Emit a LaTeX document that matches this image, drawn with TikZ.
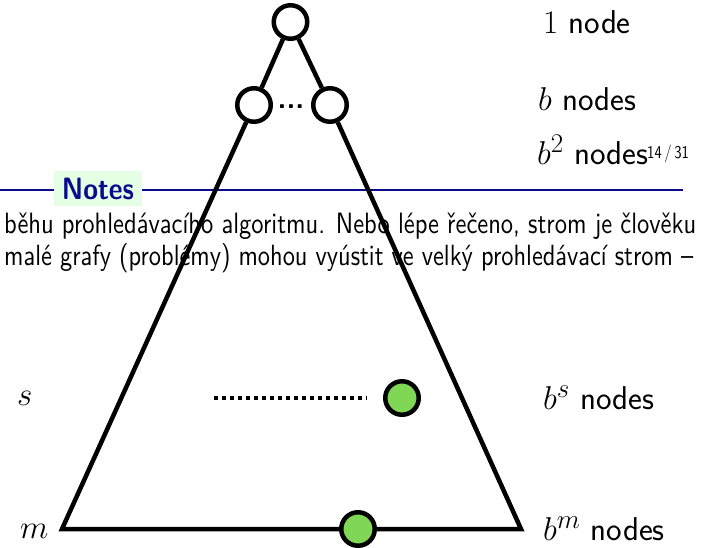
\RequirePackage{fix-cm}
\documentclass[tikz,border=0pt]{standalone}
\usepackage{fontspec}
\usepackage{graphicx}
\DeclareMathSizes{33}{33}{27}{20}
\definecolor{nodegreen}{RGB}{128,214,85}
\definecolor{notesblue}{RGB}{10,10,140}
\definecolor{notesbg}{RGB}{228,255,228}
\begin{document}
\begin{tikzpicture}[x=1pt,y=-1pt,
  tree/.style={line width=4.5pt, black},
  emptynode/.style={circle, draw=black, line width=4.5pt, fill=white, minimum size=33.5pt, inner sep=0pt},
  goalnode/.style={emptynode, fill=nodegreen},
  lbl/.style={font=\fontsize{33}{40}\selectfont\sffamily, anchor=base west, inner sep=0pt},
  notetext/.style={font=\sffamily, anchor=base west, inner sep=0pt}]
\useasboundingbox (0,0) rectangle (701,547);
% notes area
\coordinate (nl0) at (0,190);
\coordinate (nl1) at (683,190);
\draw[notesblue, line width=2pt] (nl0) -- (nl1);
\node[fill=notesbg, text=notesblue, minimum width=88pt, minimum height=35pt, inner sep=0pt] (notes) at (98,188.5)
  {\scalebox{1}[1.15]{\resizebox{72pt}{!}{\sffamily\bfseries Notes}}};
\node[notetext] (line1) at (4,233) {\scalebox{1}[1.2]{\resizebox{692pt}{!}{běhu prohledávacího algoritmu. Nebo lépe řečeno, strom je člověku}}};
\node[notetext] (line2) at (4,265) {\scalebox{1}[1.2]{\resizebox{689pt}{!}{malé grafy (problémy) mohou vyústit ve velký prohledávací strom –}}};
% labels
\node[lbl] (l1) at (543,33) {$1$ node};
\node[lbl] (lb) at (538,110) {$b$ nodes};
\node[lbl] (lb2) at (537,164) {$b^2$ nodes};
\node[font=\fontsize{15}{17}\selectfont\sffamily, anchor=base west, inner sep=0pt] (page) at (647,158) {\scalebox{1}[1.2]{14\,/\,31}};
\node[lbl] (lbs) at (543,409) {$b^s$ nodes};
\node[lbl] (lbm) at (543,540) {$b^m$ nodes};
\node[lbl] (ls) at (17,405) {$s$};
\node[lbl] (lm) at (20,538) {$m$};
% tree
\node[emptynode] (root) at (290.5,22) {};
\node[emptynode] (c1) at (254,105) {};
\node[emptynode] (c2) at (330,105) {};
\node[font=\fontsize{29}{30}\selectfont\sffamily\bfseries, inner sep=0pt, anchor=base] (dots) at (291,108) {...};
\coordinate (bl) at (62,529);
\coordinate (br) at (521,529);
\draw[tree] (root) -- (c1);
\draw[tree] (root) -- (c2);
\draw[tree] (c1) -- (bl) -- (br) -- (c2);
\node[goalnode] (gs) at (402,398) {};
\node[goalnode] (gm) at (358,529) {};
\coordinate (ds) at (214,398);
\coordinate (de) at (367,398);
\draw[line width=4.5pt, dash pattern=on 4pt off 4pt] (ds) -- (de);
\end{tikzpicture}
\end{document}
